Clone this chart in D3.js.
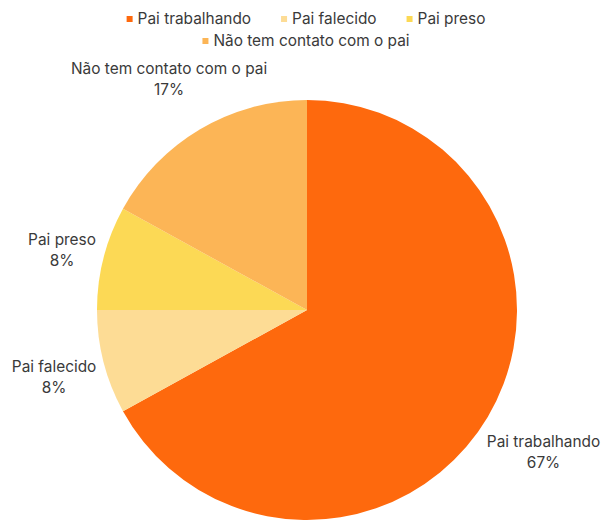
<!DOCTYPE html>
<html>
<head>
<meta charset="utf-8">
<script src="https://cdn.jsdelivr.net/npm/d3@7"></script>
<style>
  html, body { margin: 0; padding: 0; background: #fff; }
  svg { display: block; font-family: Inter, "Noto Sans", sans-serif; }
</style>
</head>
<body>
<svg id="chart" width="605" height="521"></svg>
<script>
// Situação do pai — share of responses
const categories = ["Pai trabalhando", "Pai falecido", "Pai preso", "Não tem contato com o pai"];
const values = [67, 8, 8, 17];
const colors = ["#FE690D", "#FDDC95", "#FCD955", "#FCB556"];

const W = 605, H = 521;
const cx = 307, cy = 310, R = 210;
const textColor = "#3a3a3a";
const fontSize = 15.4;

const svg = d3.select("#chart");
const data = categories.map((c, i) => ({ name: c, value: values[i], color: colors[i] }));

const pie = d3.pie().value(d => d.value).sort(null).startAngle(0).endAngle(2 * Math.PI);
const arc = d3.arc().innerRadius(0).outerRadius(R);
const arcs = pie(data);
const total = d3.sum(values);

const g = svg.append("g").attr("transform", `translate(${cx},${cy})`);
g.selectAll("path.slice")
  .data(arcs)
  .join("path")
  .attr("class", "slice")
  .attr("d", arc)
  .attr("fill", d => d.data.color);

// Data labels: two lines, pushed out along the slice mid-angle until the box clears the pie
const lineGap = 21;
const labels = g.selectAll("g.label")
  .data(arcs)
  .join("g")
  .attr("class", "label");

labels.append("text")
  .attr("text-anchor", "middle")
  .attr("y", -lineGap / 2 + 8)
  .attr("font-size", fontSize)
  .attr("fill", textColor)
  .text(d => d.data.name);
labels.append("text")
  .attr("text-anchor", "middle")
  .attr("y", lineGap / 2 + 8)
  .attr("font-size", fontSize)
  .attr("fill", textColor)
  .text(d => Math.round(d.data.value / total * 100) + "%");

labels.each(function(d) {
  const sel = d3.select(this);
  const w = d3.max(sel.selectAll("text").nodes(), n => n.getComputedTextLength());
  const hw = w / 2, hh = 22;
  const a = (d.startAngle + d.endAngle) / 2;
  const dx = Math.sin(a), dy = -Math.cos(a);
  const clear = R + 5;
  const nearest = t => {
    const x = t * dx, y = t * dy;
    const nx = Math.max(Math.abs(x) - hw, 0) * Math.sign(x);
    const ny = Math.max(Math.abs(y) - hh, 0) * Math.sign(y);
    return Math.hypot(nx, ny);
  };
  let lo = 0, hi = R + 400;
  for (let k = 0; k < 50; k++) {
    const mid = (lo + hi) / 2;
    if (nearest(mid) < clear) lo = mid; else hi = mid;
  }
  sel.attr("transform", `translate(${hi * dx},${hi * dy})`);
});

// Legend, centred rows
const legend = svg.append("g").attr("class", "legend");
const items = legend.selectAll("g.item")
  .data(data)
  .join("g")
  .attr("class", "item");
items.append("rect")
  .attr("width", 6).attr("height", 6)
  .attr("y", -8)
  .attr("fill", d => d.color);
items.append("text")
  .attr("x", 11)
  .attr("font-size", fontSize)
  .attr("fill", textColor)
  .text(d => d.name);

const gap = 30, maxRow = 400;
const rows = [];
let row = [], rowW = 0;
items.each(function() {
  const w = 11 + d3.select(this).select("text").node().getComputedTextLength();
  const need = row.length ? rowW + gap + w : w;
  if (row.length && need > maxRow) {
    rows.push({ items: row, width: rowW });
    row = [{ node: this, w }]; rowW = w;
  } else {
    row.push({ node: this, w }); rowW = need;
  }
});
if (row.length) rows.push({ items: row, width: rowW });

rows.forEach((r, ri) => {
  let x = 306 - r.width / 2;
  const y = 24 + ri * 22;
  r.items.forEach(it => {
    d3.select(it.node).attr("transform", `translate(${x},${y})`);
    x += it.w + gap;
  });
});
</script>
</body>
</html>
